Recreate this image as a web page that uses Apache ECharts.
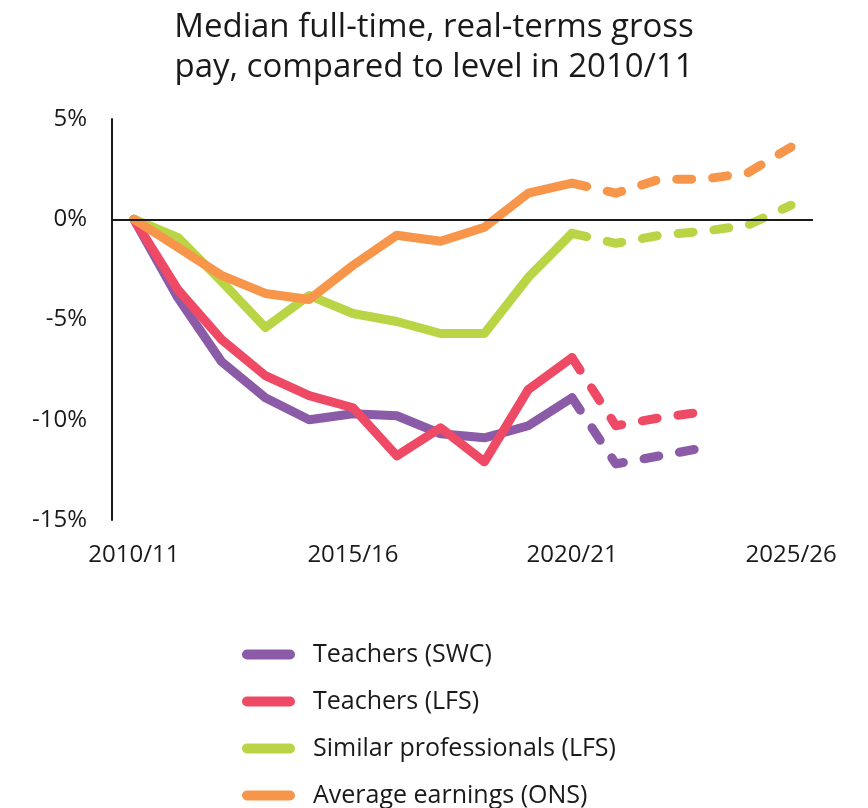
<!DOCTYPE html>
<html>
<head>
<meta charset="utf-8">
<title>Median full-time, real-terms gross pay</title>
<script src="https://cdn.jsdelivr.net/npm/echarts@6/dist/echarts.min.js"></script>
<style>
  html, body {
    margin: 0;
    padding: 0;
    background: #ffffff;
  }
  #chart {
    width: 868px;
    height: 808px;
  }
</style>
</head>
<body>
<div id="chart"></div>
<script>
// x categories, one per year
const years = ['2010/11', '2011/12', '2012/13', '2013/14', '2014/15', '2015/16', '2016/17', '2017/18',
  '2018/19', '2019/20', '2020/21', '2021/22', '2022/23', '2023/24', '2024/25', '2025/26']

const yTicks = [-15, -10, -5, 0, 5]

// solid part, 2010/11 - 2020/21
const swcActual = [0, -3.9, -7.1, -8.9, -10.0, -9.7, -9.8, -10.7, -10.9, -10.3, -8.9]
const lfsActual = [0, -3.5, -6.0, -7.8, -8.8, -9.4, -11.8, -10.4, -12.1, -8.5, -6.9]
const simActual = [0, -0.9, -3.1, -5.4, -3.8, -4.7, -5.1, -5.7, -5.7, -2.9, -0.7]
const aveActual = [0, -1.4, -2.8, -3.7, -4.0, -2.3, -0.8, -1.1, -0.4, 1.3, 1.8]

// dashed part, starts from 2020/21
const swcForecast = [-8.9, -12.2, -11.8, -11.4]
const lfsForecast = [-6.9, -10.3, -9.9, -9.6]
const simForecast = [-0.7, -1.2, -0.8, -0.6, -0.3, 0.7]
const aveForecast = [1.8, 1.3, 2.0, 2.0, 2.3, 3.6]

const names = ['Teachers (SWC)', 'Teachers (LFS)', 'Similar professionals (LFS)', 'Average earnings (ONS)']
const colors = ['#8b5ba7', '#ef4a65', '#b9d546', '#f7964a']

const forecastStart = 10
const fontFamily = '"Open Sans", sans-serif'

function padActual(arr) {
  const out = arr.slice()
  while (out.length < years.length) out.push(null)
  return out
}

function padForecast(arr) {
  const out = []
  for (let i = 0; i < forecastStart; i++) out.push(null)
  return out.concat(arr)
}

function makeSeries(idx, actual, forecast) {
  const solid = {
    name: names[idx],
    type: 'line',
    color: colors[idx],
    showSymbol: false,
    symbol: 'none',
    data: padActual(actual),
    lineStyle: { width: 9, color: colors[idx], cap: 'round', join: 'round' }
  }
  const dashed = {
    name: names[idx],
    type: 'line',
    color: colors[idx],
    showSymbol: false,
    symbol: 'none',
    data: padForecast(forecast),
    lineStyle: { width: 9, color: colors[idx], type: [15, 21], cap: 'round', join: 'round' }
  }
  return [solid, dashed]
}

const series = [].concat(
  makeSeries(0, swcActual, swcForecast),
  makeSeries(1, lfsActual, lfsForecast),
  makeSeries(2, simActual, simForecast),
  makeSeries(3, aveActual, aveForecast)
)

// zero line
series[0].markLine = {
  silent: true,
  symbol: ['none', 'none'],
  label: { show: false },
  lineStyle: { color: '#1a1a1a', width: 2, type: 'solid' },
  data: [{ yAxis: 0 }]
}

const options = {
  animation: false,
  backgroundColor: '#ffffff',
  title: {
    text: 'Median full-time, real-terms gross\npay, compared to level in 2010/11',
    left: 'center',
    top: 3,
    textStyle: {
      fontFamily: fontFamily,
      fontSize: 33,
      fontWeight: 'normal',
      lineHeight: 40,
      color: '#1a1a1a'
    }
  },
  grid: {
    left: 112,
    right: 55,
    top: 119,
    bottom: 288,
    containLabel: false
  },
  legend: {
    orient: 'vertical',
    left: 242,
    top: 642,
    height: 166,
    padding: 0,
    itemWidth: 53,
    itemHeight: 10,
    itemGap: 22,
    icon: 'path://M5,0 H48 A5,5 0 0 1 48,10 H5 A5,5 0 0 1 5,0 Z',
    lineStyle: { type: 'solid', cap: 'round', width: 9 },
    data: names,
    textStyle: {
      fontFamily: fontFamily,
      fontSize: 25,
      lineHeight: 25,
      color: '#1a1a1a',
      padding: [0, 0, 0, 13]
    }
  },
  xAxis: {
    type: 'category',
    data: years,
    boundaryGap: true,
    axisLine: { show: false },
    axisTick: { show: false },
    splitLine: { show: false },
    axisLabel: {
      interval: 4,
      margin: 23,
      fontFamily: fontFamily,
      fontSize: 24,
      color: '#1a1a1a'
    }
  },
  yAxis: {
    type: 'value',
    min: yTicks[0],
    max: yTicks[yTicks.length - 1],
    interval: 5,
    axisLine: { show: true, lineStyle: { color: '#1a1a1a', width: 2 } },
    axisTick: { show: false },
    splitLine: { show: false },
    axisLabel: {
      margin: 25,
      fontFamily: fontFamily,
      fontSize: 24,
      color: '#1a1a1a',
      formatter: '{value}%'
    }
  },
  series: series
}

const chart = echarts.init(document.getElementById('chart'))
chart.setOption(options)
</script>
</body>
</html>
